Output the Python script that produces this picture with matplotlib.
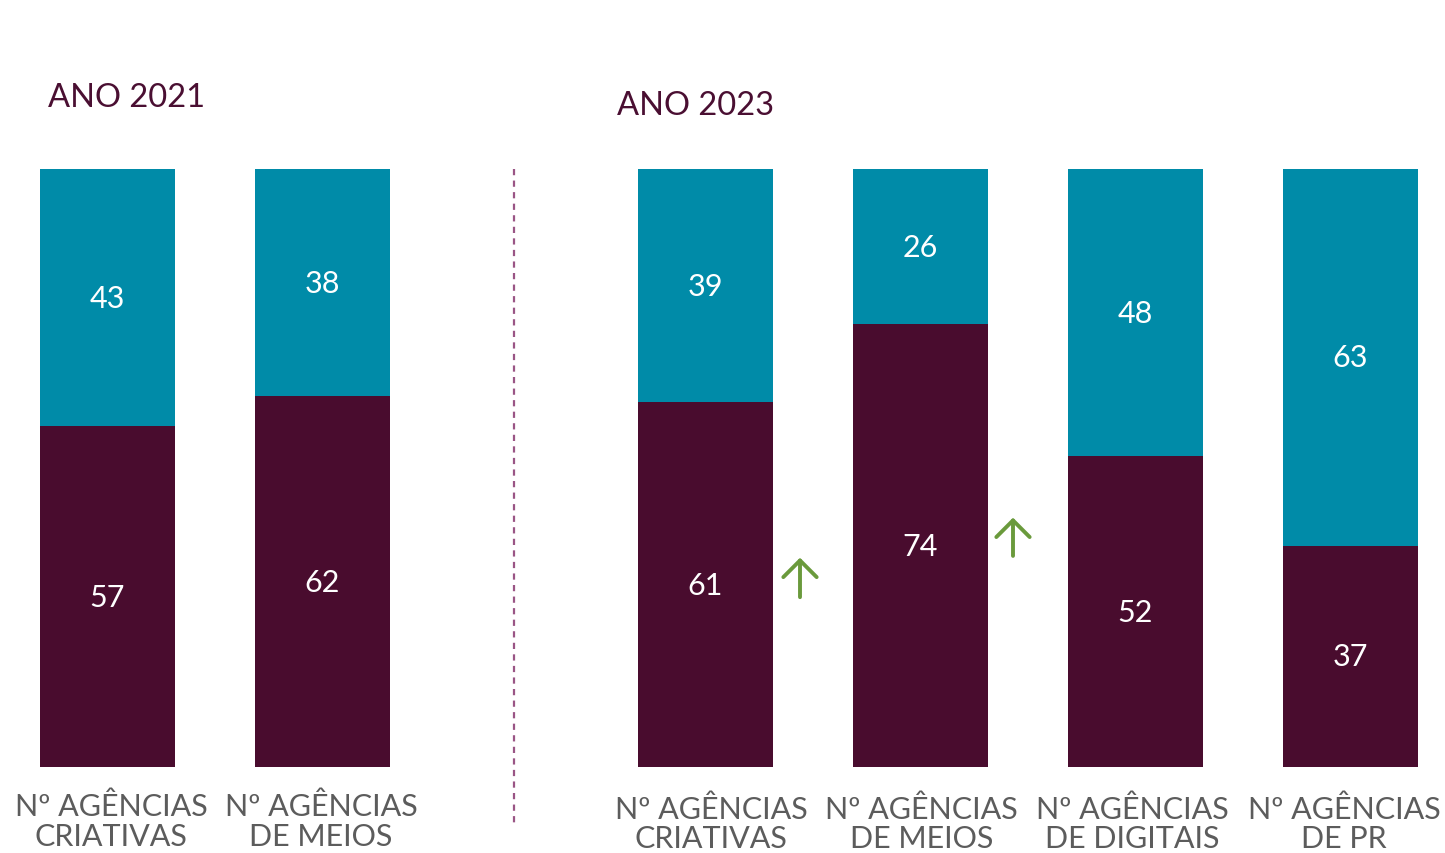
import matplotlib.pyplot as plt

plt.rcParams["font.family"] = ["Lato", "DejaVu Sans"]

# data
groups = ["ANO 2021", "ANO 2023"]
labels_2021 = ["Nº AGÊNCIAS\nCRIATIVAS", "Nº AGÊNCIAS\nDE MEIOS"]
labels_2023 = ["Nº AGÊNCIAS\nCRIATIVAS", "Nº AGÊNCIAS\nDE MEIOS",
               "Nº AGÊNCIAS\nDE DIGITAIS", "Nº AGÊNCIAS\nDE PR"]
bottom_2021 = [57, 62]
top_2021 = [43, 38]
bottom_2023 = [61, 74, 52, 37]
top_2023 = [39, 26, 48, 63]

MAROON = "#490c2e"
TEAL = "#008ba8"
GREEN = "#6a9a3c"
GREY = "#5c5c5c"
TITLE = "#4a0f32"

W, H = 1445, 854
fig = plt.figure(figsize=(W / 100, H / 100), dpi=100)
# y: 0 at pixel 768, 100 at pixel 170 ; x in pixel units
ax = fig.add_axes([0, (H - 768) / H, 1, 598 / H])
ax.set_xlim(0, W)
ax.set_ylim(0, 100)
ax.axis("off")

x_2021 = [107.5, 322.5]
x_2023 = [705.5, 920.5, 1135.5, 1350.5]
bw = 135

def draw(xs, bot, top, labels, ly, shifts):
    ax.bar(xs, bot, width=bw, color=MAROON, linewidth=0)
    ax.bar(xs, top, width=bw, bottom=bot, color=TEAL, linewidth=0)
    for x, b, t, lab, dx in zip(xs, bot, top, labels, shifts):
        ax.text(x, b / 2, str(b), color="white", fontsize=22,
                ha="center", va="center")
        ax.text(x, b + t / 2, str(t), color="white", fontsize=22,
                ha="center", va="center")
        ax.text(x + dx, ly, lab, color=GREY, fontsize=22, ha="center",
                va="center", linespacing=1.08, clip_on=False)

draw(x_2021, bottom_2021, top_2021, labels_2021, -9.0, [3.5, -1.5])
draw(x_2023, bottom_2023, top_2023, labels_2023, -9.4, [5.5, 1, -3.5, -6.5])

fig.text(48 / W, 1 - 98 / H, groups[0], color=TITLE, fontsize=23.5,
         ha="left", va="center")
fig.text(617 / W, 1 - 106 / H, groups[1], color=TITLE, fontsize=23.5,
         ha="left", va="center")

# separator
ax.plot([514, 514], [100, -10], color="#9a5585", lw=1.6,
        dashes=(2.8, 2.4), clip_on=False)

# up arrows
for x, y0, y1 in [(800, 28.4, 35.0), (1013, 35.3, 41.7)]:
    ax.annotate("", xy=(x, y1), xytext=(x, y0),
                arrowprops=dict(arrowstyle="->,head_length=0.6,head_width=0.6",
                                mutation_scale=20, color=GREEN, lw=2.8,
                                shrinkA=0, shrinkB=0))

fig.savefig("out.png", dpi=100)
